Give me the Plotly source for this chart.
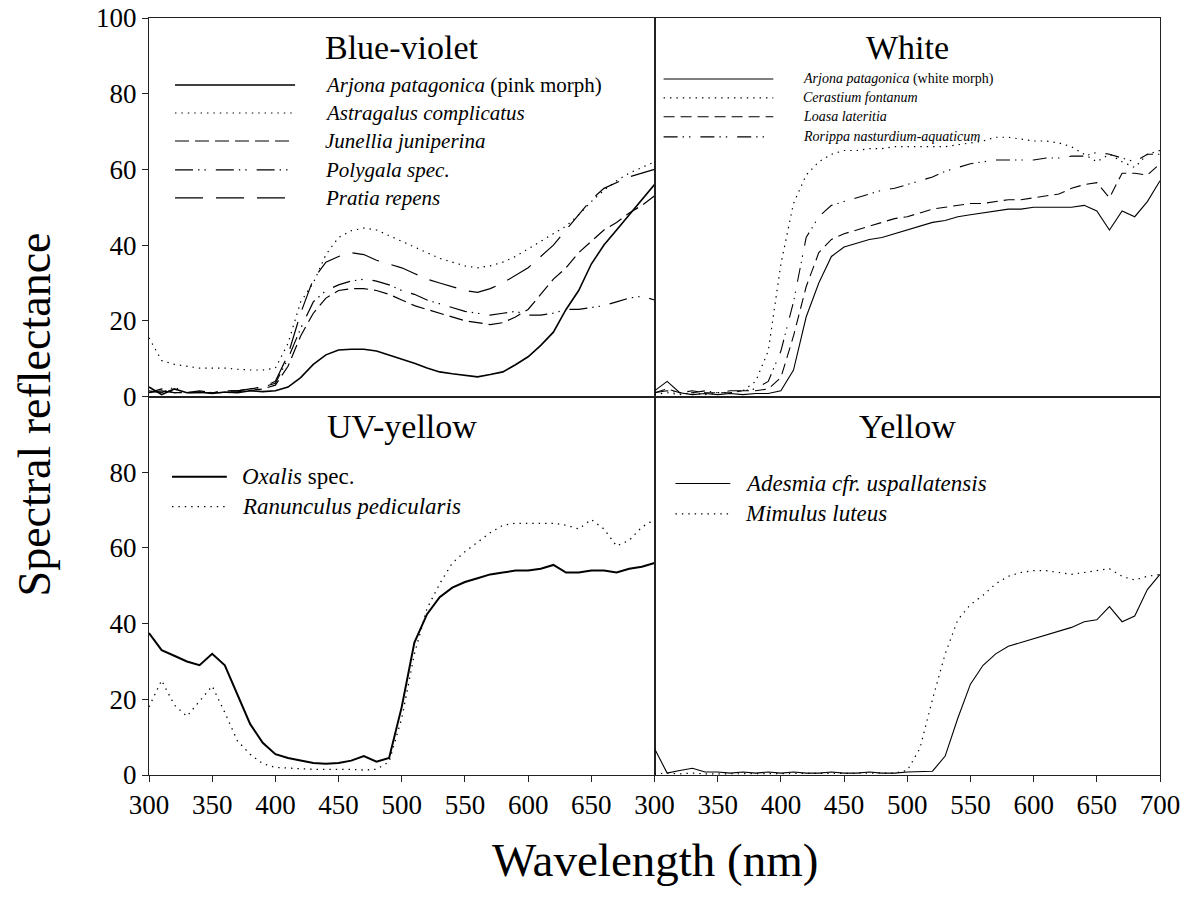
import plotly.graph_objects as go
from plotly.subplots import make_subplots

# Wavelength grid (nm) shared by every spectrum
wavelength = list(range(300, 701, 10))

# Blue-violet flowers
arjona_pink = [2.5, 0.5, 2.0, 1.0, 1.2, 0.8, 1.2, 1.0, 1.5, 1.3,
               1.5, 2.5, 5.0, 8.5, 11.0, 12.3, 12.5, 12.5, 12.0, 11.0,
               10.0, 8.8, 7.5, 6.5, 6.0, 5.5, 5.2, 5.8, 6.5, 8.4,
               10.5, 13.5, 17.0, 23.0, 28.0, 35.0, 40.0, 44.0, 48.0, 52.0,
               56.0]
astragalus = [15.5, 9.5, 8.5, 8.0, 7.5, 7.5, 7.5, 7.2, 7.0, 7.0,
              7.5, 14.0, 25.0, 30.0, 37.5, 42.0, 43.8, 44.5, 44.0, 42.5,
              41.0, 39.5, 38.0, 36.5, 35.5, 34.5, 34.0, 34.5, 35.5, 37.0,
              39.0, 41.0, 43.0, 45.0, 48.0, 51.5, 54.5, 57.0, 59.0, 60.5,
              62.0]
junellia = [1.0, 2.0, 1.0, 1.0, 1.0, 1.0, 1.0, 1.2, 1.5, 2.0,
            3.0, 8.0, 16.0, 22.0, 26.0, 28.0, 28.5, 28.5, 28.0, 27.0,
            25.5, 24.0, 23.0, 22.0, 21.0, 20.0, 19.5, 19.0, 19.5, 21.0,
            23.0, 27.0, 31.0, 34.0, 38.0, 41.0, 44.0, 46.0, 48.5, 50.5,
            53.0]
polygala = [1.5, 1.0, 2.5, 1.0, 1.5, 1.0, 1.5, 1.5, 2.0, 2.5,
            3.5, 10.0, 18.0, 25.0, 28.0, 29.5, 30.5, 31.0, 30.5, 29.5,
            28.0, 27.0, 25.5, 24.5, 23.5, 22.5, 22.0, 21.5, 22.0, 22.5,
            21.5, 21.5, 22.0, 23.0, 23.0, 23.5, 24.0, 25.0, 26.0, 26.5,
            25.5]
pratia = [1.0, 1.5, 1.0, 1.0, 1.0, 1.0, 1.5, 1.5, 2.0, 2.5,
          4.0, 11.0, 22.0, 31.0, 35.5, 37.0, 38.0, 37.5, 36.0, 35.0,
          34.0, 32.5, 31.0, 30.0, 29.0, 28.0, 27.5, 28.5, 30.0, 32.0,
          34.0, 37.0, 40.0, 44.0, 48.0, 52.0, 55.0, 56.5, 58.0, 59.0,
          60.0]

# White flowers
arjona_white = [1.5, 4.0, 1.0, 0.5, 0.8, 0.5, 0.8, 0.5, 0.8, 0.8,
                1.5, 7.0, 21.0, 30.0, 37.0, 39.5, 40.5, 41.5, 42.0, 43.0,
                44.0, 45.0, 46.0, 46.5, 47.5, 48.0, 48.5, 49.0, 49.5, 49.5,
                50.0, 50.0, 50.0, 50.0, 50.5, 49.0, 44.0, 49.0, 47.5, 51.5,
                57.0]
cerastium = [0.5, 1.0, 0.5, 1.0, 0.5, 1.0, 1.0, 1.5, 4.0, 12.0,
             35.0, 51.0, 58.5, 62.0, 64.0, 65.0, 65.0, 65.5, 65.5, 66.0,
             66.0, 66.0, 66.0, 66.0, 66.5, 67.0, 67.5, 68.5, 68.5, 68.0,
             67.5, 67.5, 67.0, 66.0, 64.0, 62.0, 64.0, 62.0, 60.5, 64.0,
             65.0]
loasa = [1.0, 2.0, 1.0, 1.5, 1.0, 1.0, 1.0, 1.5, 1.5, 2.0,
         5.0, 16.0, 29.0, 38.0, 41.5, 43.0, 44.0, 45.0, 46.0, 47.0,
         47.5, 48.5, 49.5, 50.0, 50.5, 51.0, 51.0, 51.5, 52.0, 52.0,
         52.5, 53.0, 53.5, 55.0, 56.0, 56.5, 52.5, 59.0, 59.0, 58.5,
         61.5]
rorippa = [1.0, 1.5, 1.0, 1.0, 1.5, 1.0, 1.5, 1.5, 2.0, 4.0,
           12.0, 25.0, 42.0, 47.5, 50.5, 51.5, 52.5, 53.5, 54.5, 55.0,
           56.0, 57.0, 58.0, 59.5, 60.5, 61.5, 62.0, 62.5, 62.5, 62.5,
           62.5, 63.0, 63.0, 63.5, 63.5, 64.5, 64.0, 63.0, 62.0, 64.0,
           64.0]

# UV-yellow flowers
oxalis = [37.5, 33.0, 31.5, 30.0, 29.0, 32.0, 29.0, 21.0, 13.5, 8.5,
          5.5, 4.5, 3.8, 3.2, 3.0, 3.2, 3.8, 5.0, 3.5, 4.5,
          18.0, 35.0, 42.5, 47.0, 49.5, 51.0, 52.0, 53.0, 53.5, 54.0,
          54.0, 54.5, 55.5, 53.5, 53.5, 54.0, 54.0, 53.5, 54.5, 55.0,
          56.0]
ranunculus = [18.0, 25.0, 18.5, 15.5, 19.5, 23.5, 16.5, 9.0, 5.5, 3.0,
              2.0, 1.8, 1.6, 1.5, 1.5, 1.5, 1.5, 1.3, 1.5, 3.5,
              15.0, 32.0, 44.0, 50.5, 56.0, 59.0, 61.5, 64.0, 66.0, 66.5,
              66.5, 66.5, 66.5, 66.0, 65.0, 67.5, 65.0, 60.5, 62.0, 65.5,
              67.5]

# Yellow flowers
adesmia = [7.0, 0.5, 1.2, 1.8, 0.8, 0.8, 0.5, 0.8, 0.5, 0.8,
           0.5, 0.8, 0.5, 0.5, 0.8, 0.5, 0.5, 0.8, 0.5, 0.5,
           0.8, 0.8, 1.0, 5.0, 15.0, 24.0, 29.0, 32.0, 34.0, 35.0,
           36.0, 37.0, 38.0, 39.0, 40.5, 41.0, 44.5, 40.5, 42.0, 49.0,
           53.0]
mimulus = [0.3, 0.5, 0.3, 0.5, 0.3, 0.3, 0.5, 0.3, 0.3, 0.5,
           0.3, 0.3, 0.5, 0.3, 0.3, 0.3, 0.5, 0.3, 0.3, 0.5,
           1.2, 7.0, 20.0, 32.0, 41.0, 45.0, 47.5, 50.5, 52.5, 53.5,
           54.0, 54.0, 53.5, 53.0, 53.5, 54.0, 54.5, 52.5, 51.5, 52.5,
           53.0]

y_ticks_top = [0, 20, 40, 60, 80, 100]
y_ticks_bottom = [0, 20, 40, 60, 80]
x_ticks = [300, 350, 400, 450, 500, 550, 600, 650, 700]
x_ticktext_left = ["300", "350", "400", "450", "500", "550", "600", "650", ""]
x_ticktext_right = ["300", "350", "400", "450", "500", "550", "600", "650", "700"]

FONT = "Liberation Serif"
INK = "#000000"

DOT = "1.4px,5px"
DASH = "14px,6px"
DASH_DOT_DOT = "18px,5px,1.4px,5px,1.4px,10px"
LONG_DASH = "28px,13px"
DASH_W = "11px,6px"
DASH_DOT_DOT_W = "14px,5px,1.4px,5px,1.4px,10px"

# (panel row, col, title, legend font size, legend layout, series)
panels = [
    dict(row=1, col=1, title="Blue-violet", fsize=21,
         rows_y=[0.823, 0.749, 0.675, 0.599, 0.525],
         sample=(0.0515, 0.289), text_x=0.345,
         series=[
             ("<i>Arjona patagonica</i> (pink morph)", arjona_pink, "solid", 1.6),
             ("<i>Astragalus complicatus</i>", astragalus, DOT, 1.2),
             ("<i>Junellia juniperina</i>", junellia, DASH, 1.2),
             ("<i>Polygala spec.</i>", polygala, DASH_DOT_DOT, 1.2),
             ("<i>Pratia repens</i>", pratia, LONG_DASH, 1.2),
         ]),
    dict(row=1, col=2, title="White", fsize=14,
         rows_y=[0.839, 0.789, 0.739, 0.686],
         sample=(0.018, 0.235), text_x=0.29,
         series=[
             ("<i>Arjona patagonica</i> (white morph)", arjona_white, "solid", 1.1),
             ("<i>Cerastium fontanum</i>", cerastium, DOT, 1.2),
             ("<i>Loasa lateritia</i>", loasa, DASH_W, 1.1),
             ("<i>Rorippa nasturdium-aquaticum</i>", rorippa, DASH_DOT_DOT_W, 1.1),
         ]),
    dict(row=2, col=1, title="UV-yellow", fsize=23,
         rows_y=[0.788, 0.709],
         sample=(0.0455, 0.154), text_x=0.18,
         series=[
             ("<i>Oxalis</i> spec.", oxalis, "solid", 2.0),
             ("<i>Ranunculus pedicularis</i>", ranunculus, DOT, 1.3),
         ]),
    dict(row=2, col=2, title="Yellow", fsize=23,
         rows_y=[0.77, 0.69],
         sample=(0.0415, 0.15), text_x=0.176,
         series=[
             ("<i>Adesmia cfr. uspallatensis</i>", adesmia, "solid", 1.1),
             ("<i>Mimulus luteus</i>", mimulus, DOT, 1.2),
         ]),
]

fig = make_subplots(rows=2, cols=2, horizontal_spacing=0, vertical_spacing=0)

annotations = []
shapes = []
for i, p in enumerate(panels):
    n = i + 1
    suffix = "" if n == 1 else str(n)
    for name, vals, dash, width in p["series"]:
        fig.add_trace(
            go.Scatter(x=wavelength, y=vals, mode="lines", name=name,
                       line=dict(color=INK, width=width, dash=dash),
                       showlegend=False, hoverinfo="skip"),
            row=p["row"], col=p["col"])
    xr = f"x{suffix} domain"
    yr = f"y{suffix} domain"
    annotations.append(dict(
        text=p["title"], xref=xr, yref=yr, x=0.5, y=0.921,
        xanchor="center", yanchor="middle", showarrow=False,
        font=dict(family=FONT, size=34, color=INK)))
    x0, x1 = p["sample"]
    for (name, vals, dash, width), ry in zip(p["series"], p["rows_y"]):
        shapes.append(dict(
            type="line", xref=xr, yref=yr, x0=x0, x1=x1, y0=ry, y1=ry,
            line=dict(color=INK, width=width, dash=dash)))
        annotations.append(dict(
            text=name, xref=xr, yref=yr, x=p["text_x"], y=ry,
            xanchor="left", yanchor="middle", showarrow=False,
            font=dict(family=FONT, size=p["fsize"], color=INK)))

# Shared axis titles
annotations.append(dict(
    text="Wavelength (nm)", xref="paper", yref="paper", x=0.5, y=-0.112,
    xanchor="center", yanchor="middle", showarrow=False,
    font=dict(family=FONT, size=47, color=INK)))
annotations.append(dict(
    text="Spectral reflectance", xref="paper", yref="paper", x=-0.113, y=0.476,
    xanchor="center", yanchor="middle", textangle=-90, showarrow=False,
    font=dict(family=FONT, size=46, color=INK)))

axis_common = dict(showline=True, mirror=True, linecolor="#222222", linewidth=1,
                   showgrid=False, zeroline=False, automargin=False,
                   tickfont=dict(family=FONT, size=27, color=INK))

fig.update_layout(
    width=1192, height=910,
    margin=dict(l=149, r=32, t=18, b=135, autoexpand=False),
    paper_bgcolor="white", plot_bgcolor="white",
    font=dict(family=FONT, color=INK),
    annotations=annotations, shapes=shapes,
    xaxis=dict(range=[300, 700], ticks="", showticklabels=False, **axis_common),
    xaxis2=dict(range=[300, 700], ticks="", showticklabels=False, **axis_common),
    xaxis3=dict(range=[300, 700], ticks="outside", ticklen=6, tickcolor="#222222",
                tickvals=x_ticks, ticktext=x_ticktext_left, **axis_common),
    xaxis4=dict(range=[300, 700], ticks="outside", ticklen=6, tickcolor="#222222",
                tickvals=x_ticks, ticktext=x_ticktext_right, **axis_common),
    yaxis=dict(range=[0, 100], ticks="outside", ticklen=6, tickcolor="#222222",
               tickvals=y_ticks_top, **axis_common),
    yaxis2=dict(range=[0, 100], ticks="", showticklabels=False, **axis_common),
    yaxis3=dict(range=[0, 100], ticks="outside", ticklen=6, tickcolor="#222222",
                tickvals=y_ticks_bottom, **axis_common),
    yaxis4=dict(range=[0, 100], ticks="", showticklabels=False, **axis_common),
)

fig.write_html("out.html")
